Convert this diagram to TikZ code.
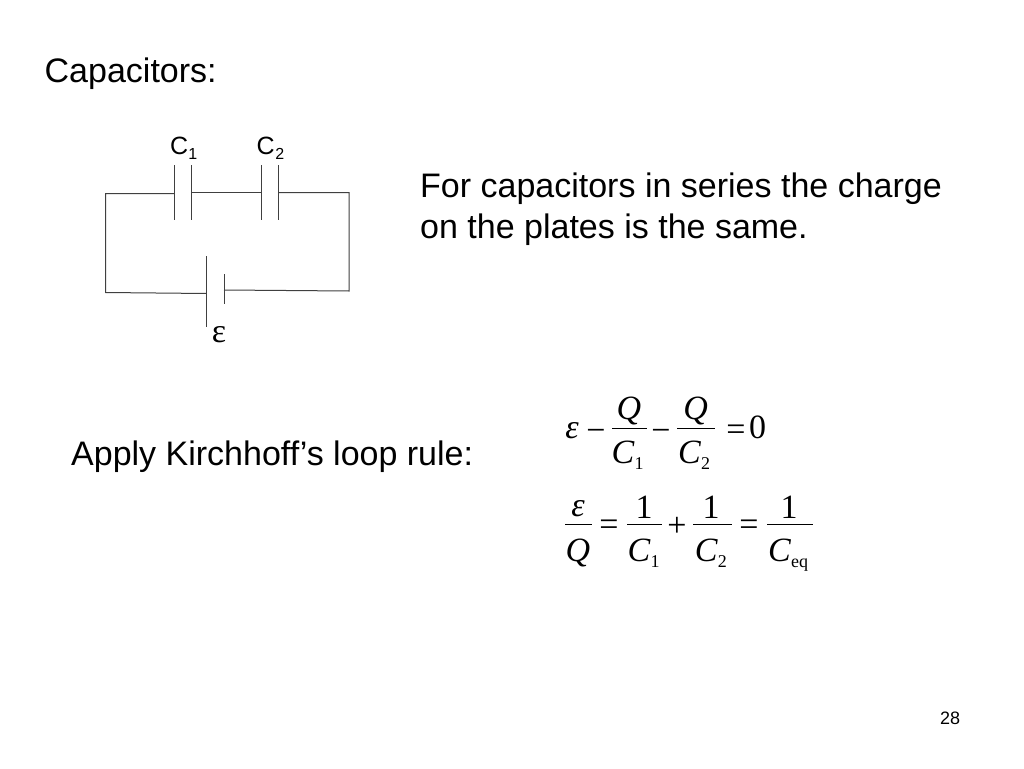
\documentclass[tikz,border=0pt]{standalone}
\usepackage{fontspec}
\setmainfont{Liberation Sans}
\newfontfamily\eqfont{Liberation Serif}
\newcommand\capsub[3]{\textit{#1}\kern#3pt\raisebox{-6pt}{\fontsize{18}{20}\selectfont #2}}
\newcommand\lblsub[2]{C\kern#2pt\raisebox{-5pt}{\fontsize{16}{18}\selectfont #1}}
\tikzset{
  wire/.style={draw=black!75,line width=1pt},
  plate/.style={draw=black!75,line width=1pt},
  bar/.style={draw=black,line width=0.9pt},
  big/.style={inner sep=0pt,anchor=base west,font=\fontsize{34}{38}\selectfont},
  lab/.style={inner sep=0pt,anchor=base west,font=\fontsize{25}{28}\selectfont},
  eqi/.style={inner sep=0pt,anchor=base,font=\eqfont\itshape\fontsize{34}{38}\selectfont},
  eqr/.style={inner sep=0pt,anchor=base,font=\eqfont\fontsize{34}{38}\selectfont},
  eqc/.style={inner sep=0pt,anchor=base west,font=\eqfont\fontsize{34}{38}\selectfont},
  pagenum/.style={inner sep=0pt,anchor=base west,font=\fontsize{18}{20}\selectfont},
}
\begin{document}
\begin{tikzpicture}[x=1pt,y=-1pt]
\useasboundingbox[fill=white] (0,0) rectangle (1024,768);
\node[big] (title) at (44.5,82) {Capacitors:};
\node[big] (l1) at (420,197) {For capacitors in series the charge};
\node[big] (l2) at (420,238) {on the plates is the same.};
\node[big] (l3) at (71,465) {Apply Kirchhoff’s loop rule:};
\node[pagenum] (pg) at (940,724) {28};
% labels
\node[lab] (c1) at (170,154) {\lblsub{1}{0}};
\node[lab] (c2) at (256.5,154) {\lblsub{2}{0.5}};
\node[inner sep=0pt,anchor=base,font=\eqfont\fontsize{34}{38}\selectfont] (em) at (219,342) {ε};
% plates
\coordinate (a1) at (174.7,165); \coordinate (a2) at (174.7,220);
\coordinate (b1) at (191.5,165); \coordinate (b2) at (191.5,220);
\coordinate (d1) at (261.3,165); \coordinate (d2) at (261.3,220);
\coordinate (e1) at (278.3,165); \coordinate (e2) at (278.3,220);
\coordinate (f1) at (206.7,256); \coordinate (f2) at (206.7,326.5);
\coordinate (g1) at (224,274); \coordinate (g2) at (224,304);
\draw[plate] (a1)--(a2); \draw[plate] (b1)--(b2);
\draw[plate] (d1)--(d2); \draw[plate] (e1)--(e2);
\draw[plate] (f1)--(f2); \draw[plate] (g1)--(g2);
% wires
\coordinate (tl) at (105.7,193.5); \coordinate (tr) at (349,192.5);
\coordinate (bl) at (105.7,292.5); \coordinate (br) at (349,291);
\coordinate (p1) at (174.7,193.5); \coordinate (p2) at (191.5,192.5);
\coordinate (p3) at (261.3,192.5); \coordinate (p4) at (278.3,192.5);
\coordinate (p5) at (206.7,293.5); \coordinate (p6) at (224,290);
\draw[wire] (p1)--(tl)--(bl)--(p5);
\draw[wire] (p2)--(p3);
\draw[wire] (p4)--(tr)--(br)--(p6);
% equation 1
\node[eqi] (e1a) at (572,438) {ε};
\node[eqr] (e1m) at (596,441) {−};
\node[eqi] (e1q) at (629,419) {Q};
\coordinate (e1x) at (612,428); \coordinate (e1y) at (647,428);
\draw[bar] (e1x)--(e1y);
\node[eqc] (e1c) at (611.5,463.5) {\capsub{C}{1}{0}};
\node[eqr] (e1n) at (661,441) {−};
\node[eqi] (e1r) at (695.7,419) {Q};
\coordinate (e1u) at (677,428); \coordinate (e1v) at (715,428);
\draw[bar] (e1u)--(e1v);
\node[eqc] (e1d) at (678,463.5) {\capsub{C}{2}{0}};
\node[eqr] (e1e) at (736,440) {=};
\node[eqr] (e1z) at (757.5,438) {0};
% equation 2
\node[eqi] (e2a) at (578,516) {ε};
\coordinate (e2x) at (565,524.5); \coordinate (e2y) at (592,524.5);
\draw[bar] (e2x)--(e2y);
\node[eqi] (e2q) at (578,561) {Q};
\node[eqr] (e2e) at (609,535) {=};
\node[eqr] (e2o) at (644,518) {1};
\coordinate (e2u) at (627,524.5); \coordinate (e2v) at (662,524.5);
\draw[bar] (e2u)--(e2v);
\node[eqc] (e2c) at (627.5,561.5) {\capsub{C}{1}{0}};
\node[eqr] (e2p) at (677,536) {+};
\node[eqr] (e2t) at (711,518) {1};
\coordinate (e2m) at (693,524.5); \coordinate (e2n) at (732,524.5);
\draw[bar] (e2m)--(e2n);
\node[eqc] (e2d) at (694.7,561.5) {\capsub{C}{2}{0}};
\node[eqr] (e2g) at (749,535) {=};
\node[eqr] (e2h) at (789,518) {1};
\coordinate (e2k) at (767,524.5); \coordinate (e2l) at (813,524.5);
\draw[bar] (e2k)--(e2l);
\node[eqc] (e2j) at (768,561.5) {\capsub{C}{eq}{0}};
\end{tikzpicture}
\end{document}
